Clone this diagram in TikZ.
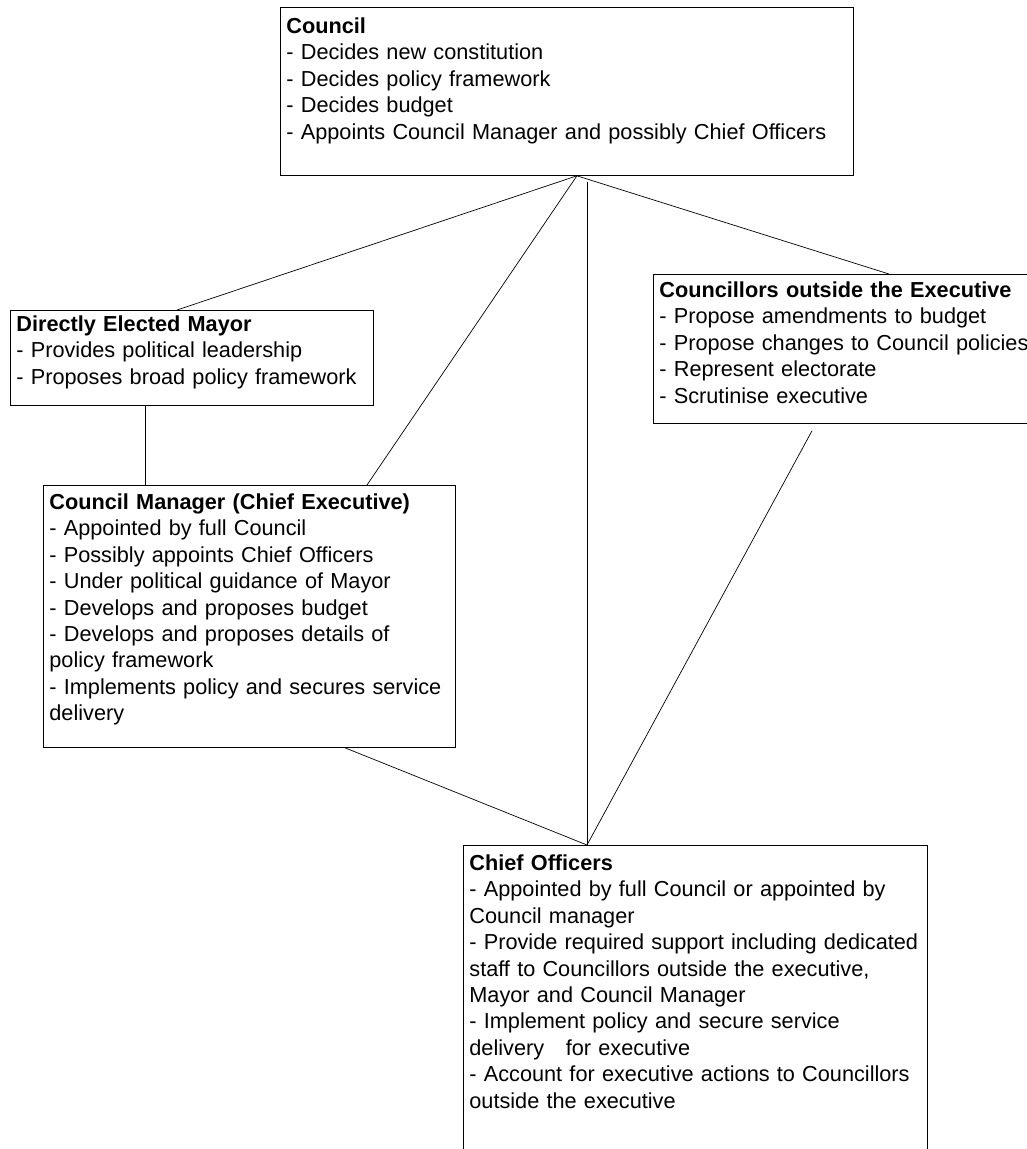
\documentclass[tikz,border=0pt]{standalone}
\usepackage{fontspec}
\setmainfont{Liberation Sans}
\usepackage{tikz}
\hyphenpenalty=10000

\begin{document}
\begin{tikzpicture}[
    x=1pt, y=-1pt,
    box/.style={rectangle, draw, line width=0.8pt, anchor=north west, align=left, inner xsep=6pt, inner ysep=0pt, font=\fontsize{21.7}{26.4}\selectfont},
    link/.style={draw, line width=0.7pt}
]
\clip (0,0) rectangle (1027,1149);

% Council
\node[box, text width=561pt, text height=26pt, text depth=142pt] (council) at (280,7) {\textbf{Council}\\
- Decides new constitution\\
- Decides policy framework\\
- Decides budget\\
- Appoints Council Manager and possibly Chief Officers};

% Mayor
\node[box, text width=351pt, text height=21pt, text depth=74pt] (mayor) at (10,310) {\textbf{Directly Elected Mayor}\\
- Provides political leadership\\
- Proposes broad policy framework};

% Councillors outside the executive
\node[box, text width=375pt, text height=23pt, text depth=126pt] (outside) at (653,274) {\textbf{Councillors outside the Executive}\\
- Propose amendments to budget\\
- Propose changes to Council policies\\
- Represent electorate\\
- Scrutinise executive};

% Council manager
\node[box, text width=400pt, text height=24pt, text depth=238pt] (manager) at (43,485) {\textbf{Council Manager (Chief Executive)}\\
- Appointed by full Council\\
- Possibly appoints Chief Officers\\
- Under political guidance of Mayor\\
- Develops and proposes budget\\
- Develops and proposes details of\\
policy framework\\
- Implements policy and secures service\\
delivery};

% Chief officers
\node[box, text width=452pt, text height=25pt, text depth=300pt] (chief) at (463,845) {\textbf{Chief Officers}\\
- Appointed by full Council or appointed by\\
Council manager\\
- Provide required support including dedicated\\
staff to Councillors outside the executive,\\
Mayor and Council Manager\\
- Implement policy and secure service\\
delivery\ \ \ for executive\\
- Account for executive actions to Councillors\\
outside the executive};

% Meeting points
\coordinate (hub) at ([xshift=10pt]council.south);
\coordinate (chiefTop) at ([xshift=124pt]chief.north west);

% Lines
\draw[link] (hub) -- ([xshift=167pt]mayor.north west);
\draw[link] (hub) -- ([xshift=324pt]manager.north west);
\draw[link] (hub) -- ([xshift=236pt]outside.north west);
\draw[link] ([yshift=-6pt]council.south -| chiefTop) -- (chiefTop);
\draw[link] ([xshift=135pt]mayor.south west) -- ([xshift=102pt]manager.north west);
\draw[link] ([xshift=302pt]manager.south west) -- (chiefTop);
\draw[link] ([xshift=159pt,yshift=-7pt]outside.south west) -- (chiefTop);

\end{tikzpicture}
\end{document}
